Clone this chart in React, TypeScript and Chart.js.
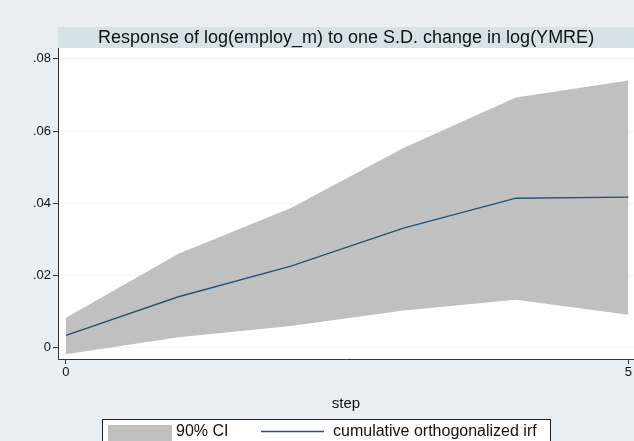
import React, { useEffect, useRef } from "react";
import { Chart, registerables } from "chart.js";

Chart.register(...registerables);

const steps = [0, 1, 2, 3, 4, 5];
const irf = [0.0034, 0.0141, 0.0226, 0.0331, 0.0414, 0.0417];
const ciUpper = [0.0083, 0.026, 0.0387, 0.0553, 0.0693, 0.074];
const ciLower = [-0.0018, 0.0029, 0.006, 0.0103, 0.0133, 0.0091];
const yTicks = [0, 0.02, 0.04, 0.06, 0.08];
const yTickLabels = ["0", ".02", ".04", ".06", ".08"];
const xTicks = [0, 5];
const titleText = "Response of log(employ_m) to one S.D. change in log(YMRE)";
const xTitle = "step";
const legendLabels = ["90% CI", "cumulative orthogonalized irf"];

const FONT = "'Liberation Sans', Arial, Helvetica, sans-serif";
const BG = "#e8eef1";
const BAND = "#d6e1e8";
const CI = "#c0c0c0";
const LINE = "#1f5184";

export default function App() {
  const ref = useRef<HTMLCanvasElement>(null);
  useEffect(() => {
    document.body.style.margin = "0";
    const canvas = ref.current!;
    const bgPlugin = {
      id: "stataBg",
      beforeDraw(chart: any) {
        const { ctx, chartArea } = chart;
        ctx.save();
        ctx.fillStyle = BG;
        ctx.fillRect(0, 0, chart.width, chart.height);
        ctx.fillStyle = BAND;
        ctx.fillRect(chartArea.left, 27, chart.width - chartArea.left, chartArea.top - 27);
        ctx.fillStyle = "#ffffff";
        ctx.fillRect(chartArea.left, chartArea.top, chartArea.right - chartArea.left, chartArea.bottom - chartArea.top);
        ctx.fillStyle = "#111";
        ctx.font = `18px ${FONT}`;
        ctx.textAlign = "center";
        ctx.textBaseline = "middle";
        ctx.fillText(titleText, (chartArea.left + chart.width) / 2, 38);
        ctx.restore();
      },
      afterDraw(chart: any) {
        const { ctx, chartArea } = chart;
        ctx.save();
        ctx.fillStyle = "#111";
        ctx.font = `15px ${FONT}`;
        ctx.textAlign = "center";
        ctx.textBaseline = "middle";
        ctx.fillText(xTitle, (chartArea.left + chartArea.right) / 2, 404);
        // legend
        ctx.fillStyle = "#ffffff";
        ctx.fillRect(102, 419, 448, 30);
        ctx.strokeStyle = "#222";
        ctx.lineWidth = 1;
        ctx.strokeRect(102.5, 419.5, 448, 30);
        ctx.fillStyle = CI;
        ctx.fillRect(108, 425, 64, 20);
        ctx.fillStyle = "#111";
        ctx.font = `16px ${FONT}`;
        ctx.textAlign = "left";
        ctx.fillText(legendLabels[0], 176, 432);
        ctx.strokeStyle = LINE;
        ctx.lineWidth = 1.3;
        ctx.beginPath();
        ctx.moveTo(261, 431.5);
        ctx.lineTo(324, 431.5);
        ctx.stroke();
        ctx.fillText(legendLabels[1], 333, 432);
        ctx.restore();
      },
    };
    const chart = new Chart(canvas, {
      type: "line",
      data: {
        datasets: [
          {
            label: "irf",
            data: steps.map((s, i) => ({ x: s, y: irf[i] })),
            borderColor: LINE,
            borderWidth: 1.4,
            pointRadius: 0,
            fill: false,
            order: 0,
          },
          {
            label: "upper",
            data: steps.map((s, i) => ({ x: s, y: ciUpper[i] })),
            borderWidth: 0,
            pointRadius: 0,
            backgroundColor: CI,
            fill: "+1",
            order: 1,
          },
          {
            label: "lower",
            data: steps.map((s, i) => ({ x: s, y: ciLower[i] })),
            borderWidth: 0,
            pointRadius: 0,
            fill: false,
            order: 2,
          },
        ],
      },
      options: {
        responsive: false,
        animation: false,
        layout: { padding: { top: 48, left: 0, right: 0, bottom: 0 } },
        plugins: { legend: { display: false }, title: { display: false }, tooltip: { enabled: false } },
        scales: {
          x: {
            type: "linear",
            min: -0.071,
            max: 5.05,
            afterBuildTicks: (s: any) => {
              s.ticks = xTicks.map((v) => ({ value: v }));
            },
            afterFit: (s: any) => {
              s.height = 82;
            },
            grid: { drawOnChartArea: false, tickLength: 5, tickColor: "#333" },
            border: { display: true, color: "#333", width: 1 },
            ticks: {
              font: { family: FONT, size: 13 },
              color: "#111",
              padding: 1,
              maxRotation: 0,
              autoSkip: false,
              callback: (v: any) => String(v),
            },
          },
          y: {
            min: -0.00314,
            max: 0.083,
            afterBuildTicks: (s: any) => {
              s.ticks = yTicks.map((v) => ({ value: v }));
            },
            afterFit: (s: any) => {
              s.width = 58;
            },
            grid: { color: "#eef3f5", tickLength: 5, tickColor: "#333" },
            border: { display: true, color: "#333", width: 1 },
            ticks: {
              font: { family: FONT, size: 13 },
              color: "#111",
              padding: 2,
              autoSkip: false,
              callback: (v: any) => {
                const i = yTicks.findIndex((t) => Math.abs(t - v) < 1e-9);
                return i >= 0 ? yTickLabels[i] : "";
              },
            },
          },
        },
      },
      plugins: [bgPlugin],
    });
    return () => chart.destroy();
  }, []);
  return <canvas ref={ref} width={634} height={441} style={{ display: "block" }} />;
}
